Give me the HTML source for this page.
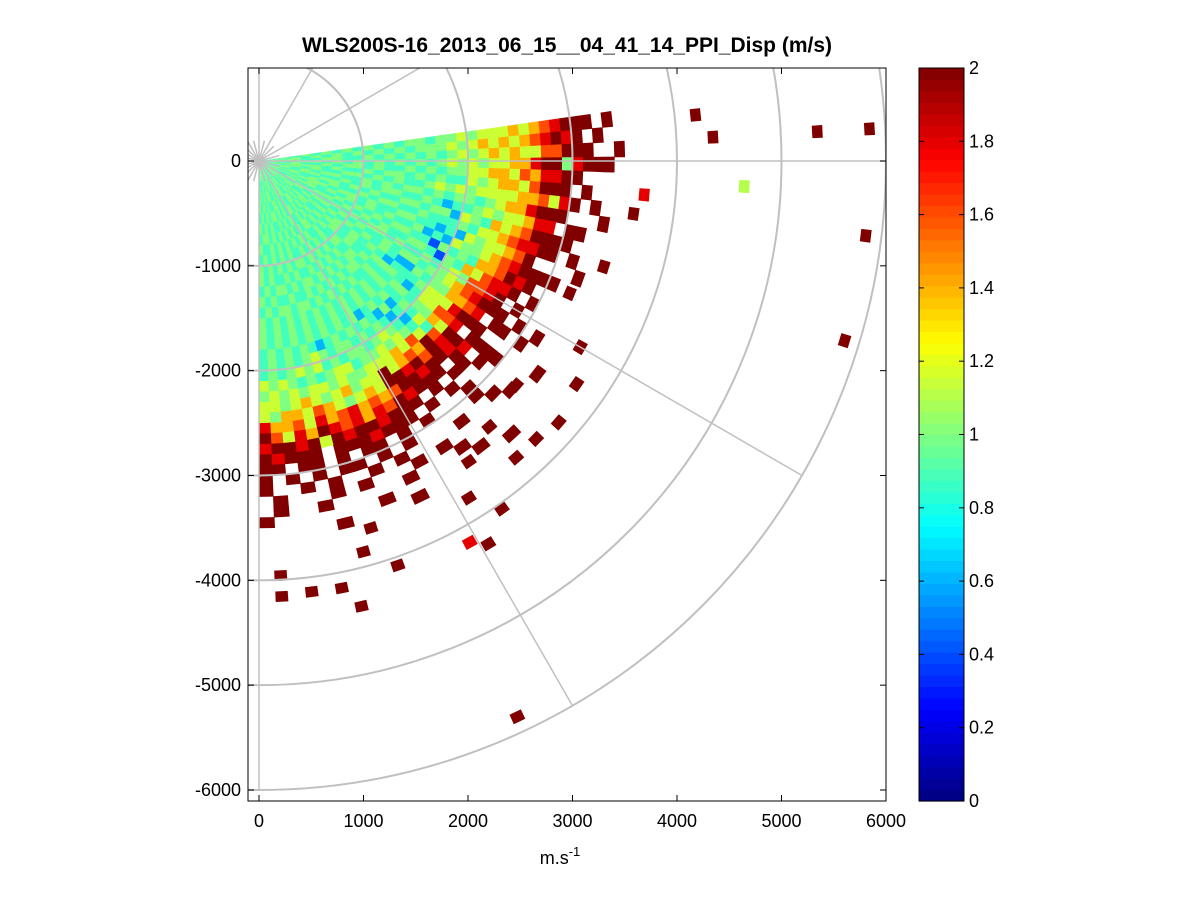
<!DOCTYPE html>
<html><head><meta charset="utf-8"><style>
body{margin:0;background:#fff;width:1201px;height:901px;overflow:hidden}
svg{display:block;font-family:"Liberation Sans",Arial,sans-serif}
</style></head><body>
<svg id="c" width="1201" height="901" viewBox="0 0 1201 901">
<defs><clipPath id="ax"><rect x="248" y="68" width="638" height="733"/></clipPath></defs>
<rect x="248" y="68" width="638" height="733" fill="#fff"/>
<g id="cells" clip-path="url(#ax)"></g>
<g id="grid" clip-path="url(#ax)"></g>
<rect x="248" y="68" width="638" height="733" fill="none" stroke="#000" stroke-width="1"/>
<g id="ticks"></g>
<text x="567" y="52" font-size="21" font-weight="bold" text-anchor="middle">WLS200S-16_2013_06_15__04_41_14_PPI_Disp (m/s)</text>
<text x="560" y="864" font-size="18" text-anchor="middle">m.s<tspan dy="-8" font-size="13">-1</tspan></text>
<g id="cbar"></g>
</svg>
<script>
const xTicks=[0,1000,2000,3000,4000,5000,6000];
const yTicks=[0,-1000,-2000,-3000,-4000,-5000,-6000];
const cbTicks=[0,0.2,0.4,0.6,0.8,1,1.2,1.4,1.6,1.8,2];
const codeChars=["1","2","3","4","5","6","7","8","9","X"];
const codeVals=[0.2,0.4,0.6,0.88,1.0,1.15,1.4,1.6,1.8,2.0];
const rangeGateM=100;
const angleStartDeg=8, angleStepDeg=2.45;
const rows=[
"5454545454545454545454545454545454545454",
"4555545445554554454555544545455445554554",
"5454454554545445545454455454544554545445",
"4554555445545454455454544554545445545454",
"5445454554454545544545455445454554454545",
"4545455454555545454554545455454545545454",
"5454544545454454545445454544545454454545",
"4555454545545454545454545545454545454554",
"5444545454454545454545454454545454545445",
"4545545445455454545554454545454454545454",
"5454454554544545454445545454545545454545",
"4545545445455454545554454545454454544545",
"5454454554544545454445545454545545455454",
"4545455454545455445454554545454544544545",
"5454544545454544554545445454545455455454",
"5545454545454545443545454545454545454545",
"4554545454545454534545454545454545454545",
"5545456545443454534454545435454545454545",
"5656545435434245454354353454545434545454",
"6565546543443524545445434545455456545454",
"5656665546536455"+"556654345654"+"554546565454",
"6765656455465546"+"656656456565"+"546654545656",
"6676766564655475"+"776874686766"+"655656656565",
"6766776657666768"+"879868X7876X"+"665765676566",
"7677676766767788"+"98X9X9X8X9XX"+"676567867756",
"6767867767878899"+"X9X.X9XX9XX8"+"787987968779",
"7869787978989X9X"+"X.XX9X.XXX9X"+"897989X7968X",
"898X9X8X9X9XX9X."+"XX.X.XX.X.XX"+"X9XX9X6X9XX9",
"9X8X9X6X9XX.XX.X"+".X.XX..X.X.X"+"XX9XXX.XXX9X",
"X9X5XX9X.XX.X.X."+"X..X..X...X."+"X.XX.X.XX.XX",
"XXX9X.X.XX..X..."+".X....X....."+"X.X.XX.X.X.X",
"X.XX.X..X.X....."+"X....X..X..."+".X.X..X.X..X",
".X.X..X....X...."+"....X.....X."+"X...X.X...X.",
"X..X...X........"+"..X......X.."+".X.....X..X.",
"..X............."+"........X..."+"...X.......X",
"................"+"......X....."+".X....X....."
];
const scatR=[4350,4200,5350,5850,4650,5850,5860,3700,3620,3450,3230,3710,3800,3260,3360,3750,3750,3790,4050,4260,4160,3660,4080,3860,4150,3960,4160,4140,4360,5850,3550,3500];
const scatA=[3,6,3,3,-3,-7,-17,-5,-8,-17,-23,-35,-41,-41,-49,-45,-49,-58,-55,-59,-61,-73,-71,-75,-79,-87,-87,-83,-77,-65,-30,-55];
const scatV=[2,2,2,2,1.1,2,2,1.8,2,2,2,2,2,2,2,2,2,2,2,2,1.8,2,2,2,2,2,2,2,2,2,2,2];

const X0=259,Y0=161,SX=0.1045,SY=0.10483;
const px=x=>X0+x*SX, py=y=>Y0-y*SY;
function jet(v){let t=Math.max(0,Math.min(1,v/2));
 const f=(a)=>Math.max(0,Math.min(1,1.5-Math.abs(4*t-a)));
 return `rgb(${Math.round(255*f(3))},${Math.round(255*f(2))},${Math.round(255*f(1))})`;}
const NS="http://www.w3.org/2000/svg";
function mk(tag,attrs,parent){const e=document.createElementNS(NS,tag);for(const k in attrs)e.setAttribute(k,attrs[k]);parent.appendChild(e);return e;}
function sector(r1,r2,a1,a2){
 const d=Math.PI/180,p=[];
 for(const [r,a] of [[r1,a1],[r2,a1],[r2,a2],[r1,a2]]) p.push(px(r*Math.cos(a*d)).toFixed(1)+","+py(r*Math.sin(a*d)).toFixed(1));
 return p.join(" ");}
const code=c=>codeVals[codeChars.indexOf(c)];
const cells=document.getElementById("cells");
rows.forEach((row,i)=>{
 for(let j=0;j<row.length&&j<40;j++){const c=row[j];if(c==="."||codeChars.indexOf(c)<0)continue;
  const a1=angleStartDeg-j*angleStepDeg,a2=a1-angleStepDeg;
  const p=mk("polygon",{points:sector(i*rangeGateM,(i+1)*rangeGateM+4,a1+0.05,a2-0.05),fill:jet(code(c))},cells);
  
  
 }});
scatR.forEach((r,k)=>{const da=120/r*180/Math.PI/2;
 const p=mk("polygon",{points:sector(r-50,r+50,scatA[k]+da,scatA[k]-da),fill:jet(scatV[k])},cells);
 
 });
const grid=document.getElementById("grid");
for(let r=1000;r<=6000;r+=1000){
 const e=mk("ellipse",{cx:X0,cy:Y0,rx:r*SX,ry:r*SY,fill:"none",stroke:"#c0c0c0","stroke-width":2},grid);
 
 }
for(let a=0;a<360;a+=30){const d=a*Math.PI/180;
 const l=mk("line",{x1:X0,y1:Y0,x2:px(6000*Math.cos(d)),y2:py(6000*Math.sin(d)),stroke:"#c0c0c0","stroke-width":1.5},grid);
 
 }
for(let a=15;a<360;a+=30){const d=a*Math.PI/180;
 const l=mk("line",{x1:X0,y1:Y0,x2:px(200*Math.cos(d)),y2:py(200*Math.sin(d)),stroke:"#c0c0c0","stroke-width":1.5},grid);
 
 }
const tk=document.getElementById("ticks");
xTicks.forEach(v=>{const x=px(v);
 mk("line",{x1:x,y1:801,x2:x,y2:795,stroke:"#000"},tk);mk("line",{x1:x,y1:68,x2:x,y2:74,stroke:"#000"},tk);
 const t=mk("text",{x:x,y:827,"font-size":18,"text-anchor":"middle"},tk);t.textContent=v;
 
 });
yTicks.forEach(v=>{const y=py(v);
 mk("line",{x1:248,y1:y,x2:254,y2:y,stroke:"#000"},tk);mk("line",{x1:886,y1:y,x2:880,y2:y,stroke:"#000"},tk);
 const t=mk("text",{x:241,y:y+6,"font-size":18,"text-anchor":"end"},tk);t.textContent=v;
 
 });
const cb=document.getElementById("cbar");
const cbTop=68,cbBot=801,cbX=919,cbW=45,n=64;
for(let k=0;k<n;k++){const h=(cbBot-cbTop)/n;
 const r=mk("rect",{x:cbX,y:cbBot-(k+1)*h,width:cbW,height:h+0.6,fill:jet((k+0.5)/n*2)},cb);
 
 }
mk("rect",{x:cbX,y:cbTop,width:cbW,height:cbBot-cbTop,fill:"none",stroke:"#000"},cb);
cbTicks.forEach(v=>{const y=cbBot-v/2*(cbBot-cbTop);
 mk("line",{x1:cbX,y1:y,x2:cbX+5,y2:y,stroke:"#000"},cb);mk("line",{x1:cbX+cbW,y1:y,x2:cbX+cbW-5,y2:y,stroke:"#000"},cb);
 const t=mk("text",{x:969,y:y+6,"font-size":18},cb);t.textContent=String(v);
 
 });
</script>
</body></html>
